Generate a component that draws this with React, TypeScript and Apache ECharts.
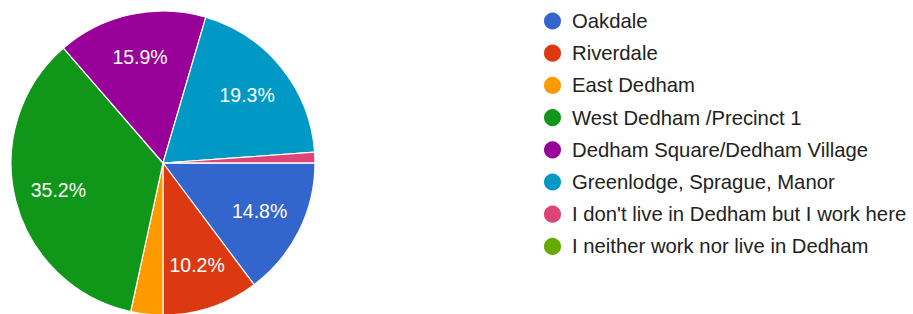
import React, { useEffect, useRef } from "react";
import * as echarts from "echarts";

const categories = [
  "Oakdale",
  "Riverdale",
  "East Dedham",
  "West Dedham /Precinct 1",
  "Dedham Square/Dedham Village",
  "Greenlodge, Sprague, Manor",
  "I don't live in Dedham but I work here",
  "I neither work nor live in Dedham",
];
const responses = [13, 9, 3, 31, 14, 17, 1, 0];
const colors = ["#3366cc", "#dc3912", "#ff9900", "#109618", "#990099", "#0099c6", "#dd4477", "#66aa00"];

const FONT = '"Liberation Sans", Arial, sans-serif';

export default function App() {
  const ref = useRef<HTMLDivElement>(null);
  useEffect(() => {
    if (!ref.current) return;
    const chart = echarts.init(ref.current, undefined, { renderer: "svg" });
    const mainData = categories.map((name, i) => ({
      name,
      value: responses[i],
      itemStyle: { color: colors[i] },
    }));
    const labelData = categories.map((name, i) => ({ name, value: responses[i] }));
    chart.setOption({
      animation: false,
      color: colors,
      legend: {
        orient: "vertical",
        left: 542,
        top: 10.5,
        padding: 0,
        icon: "circle",
        itemWidth: 19,
        itemHeight: 19,
        itemGap: 11.2,
        selectedMode: false,
        data: categories.map((name, i) => ({ name, itemStyle: { color: colors[i] } })),
        textStyle: {
          fontFamily: FONT,
          fontSize: 20.3,
          color: "#222222",
          lineHeight: 19,
          height: 19,
          padding: [0, 0, 0, 5],
        },
      },
      series: [
        {
          type: "pie",
          center: [163, 163],
          radius: [0, 152],
          startAngle: 0,
          clockwise: true,
          label: { show: false },
          labelLine: { show: false },
          itemStyle: { borderColor: "#ffffff", borderWidth: 1.2 },
          emphasis: { disabled: true },
          data: mainData,
        },
        {
          type: "pie",
          center: [163, 163],
          radius: [58, 152],
          startAngle: 0,
          clockwise: true,
          silent: true,
          z: 5,
          percentPrecision: 1,
          itemStyle: { color: "rgba(0,0,0,0)", borderWidth: 0 },
          emphasis: { disabled: true },
          labelLine: { show: false },
          label: {
            show: true,
            position: "inside",
            fontFamily: FONT,
            fontSize: 19.5,
            color: "#ffffff",
            formatter: (p: any) => (p.percent < 5 ? "" : p.percent.toFixed(1) + "%"),
          },
          data: labelData,
        },
      ],
    });
    return () => chart.dispose();
  }, []);
  return (
    <div
      ref={ref}
      style={{ position: "fixed", left: 0, top: 0, width: 913, height: 314, background: "#ffffff" }}
    />
  );
}
